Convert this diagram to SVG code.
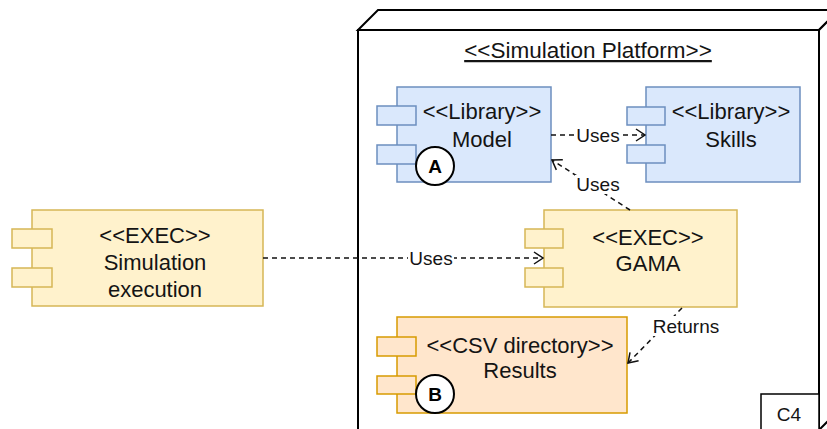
<svg xmlns="http://www.w3.org/2000/svg" width="827" height="429" viewBox="0 0 827 429">
<defs>
<style>
text{font-family:"Liberation Sans",Arial,Helvetica,sans-serif;fill:#141414;text-anchor:middle}
.nt{font-size:22px}
.lb{font-size:19px}
.blue{fill:#dae8fc;stroke:#6c8ebf;stroke-width:1.5}
.yel{fill:#fff2cc;stroke:#d6b656;stroke-width:1.5}
.org{fill:#ffe6cc;stroke:#d79b00;stroke-width:1.5}
.edge{fill:none;stroke:#111;stroke-width:1.5;stroke-dasharray:5 4;marker-end:url(#open)}
.lbg{fill:#fff}
.badge{fill:#fff;stroke:#000;stroke-width:2}
.bt{font-size:19px;font-weight:bold;fill:#000}
</style>
<marker id="open" viewBox="0 0 11 14" markerWidth="11" markerHeight="14" refX="10" refY="7" orient="auto" markerUnits="userSpaceOnUse">
<path d="M1,1 L10,7 L1,13" fill="none" stroke="#111" stroke-width="1.5"/>
</marker>
</defs>

<g id="platform">
<path d="M358,30 L378,10 L839,10 L819,30 Z" fill="#fff" stroke="#000" stroke-width="2"/>
<path d="M819,30 L839,10 L839,410 L819,430 Z" fill="#fff" stroke="#000" stroke-width="2"/>
<rect x="358" y="30" width="461" height="400" fill="#fff" stroke="#000" stroke-width="2"/>
<text x="588" y="58" style="font-size:22.5px;text-decoration:underline">&lt;&lt;Simulation Platform&gt;&gt;</text>
</g>

<g id="c4">
<rect x="761" y="394" width="58" height="40" fill="#fff" stroke="#000" stroke-width="1.5"/>
<text x="789" y="421" style="font-size:19px">C4</text>
</g>

<g id="model">
<rect class="blue" x="397" y="87" width="154" height="95"/>
<rect class="blue" x="377" y="106" width="39" height="19"/>
<rect class="blue" x="377" y="145" width="39" height="19"/>
<text class="nt" x="482" y="119">&lt;&lt;Library&gt;&gt;</text>
<text class="nt" x="482" y="147">Model</text>
<circle class="badge" cx="435" cy="166" r="19"/>
<text class="bt" x="435" y="173">A</text>
</g>

<g id="skills">
<rect class="blue" x="646" y="87" width="154" height="95"/>
<rect class="blue" x="627" y="107" width="38" height="18"/>
<rect class="blue" x="627" y="145" width="38" height="18"/>
<text class="nt" x="731" y="119">&lt;&lt;Library&gt;&gt;</text>
<text class="nt" x="731" y="147">Skills</text>
</g>

<g id="gama">
<rect class="yel" x="544" y="210" width="193" height="97"/>
<rect class="yel" x="525" y="229" width="38" height="19"/>
<rect class="yel" x="525" y="268" width="38" height="19"/>
<text class="nt" x="648" y="245">&lt;&lt;EXEC&gt;&gt;</text>
<text class="nt" x="648" y="271">GAMA</text>
</g>

<g id="results">
<rect class="org" x="397" y="317" width="230" height="96"/>
<rect class="org" x="377" y="337" width="39" height="19"/>
<rect class="org" x="377" y="376" width="39" height="18"/>
<text class="nt" x="520" y="353">&lt;&lt;CSV directory&gt;&gt;</text>
<text class="nt" x="520" y="378">Results</text>
<circle class="badge" cx="435" cy="394" r="19"/>
<text class="bt" x="435" y="401">B</text>
</g>

<g id="simexec">
<rect class="yel" x="32" y="210" width="231" height="96"/>
<rect class="yel" x="12" y="229" width="40" height="19"/>
<rect class="yel" x="12" y="268" width="40" height="19"/>
<text class="nt" x="155" y="243">&lt;&lt;EXEC&gt;&gt;</text>
<text class="nt" x="155" y="270">Simulation</text>
<text class="nt" x="155" y="297">execution</text>
</g>

<g id="connectors">
<path class="edge" d="M263,258 L543,258"/>
<rect class="lbg" x="408" y="249" width="46" height="19"/>
<text class="lb" x="431" y="265">Uses</text>

<path class="edge" d="M551,135 L645,135"/>
<rect class="lbg" x="576" y="126" width="45" height="19"/>
<text class="lb" x="598" y="142">Uses</text>

<path class="edge" d="M630,210 L552,160"/>
<rect class="lbg" x="575" y="175" width="46" height="19"/>
<text class="lb" x="598" y="191">Uses</text>

<path class="edge" d="M682,308 L628,363"/>
<rect class="lbg" x="650" y="316" width="72" height="20"/>
<text class="lb" x="686" y="333">Returns</text>
</g>
</svg>
